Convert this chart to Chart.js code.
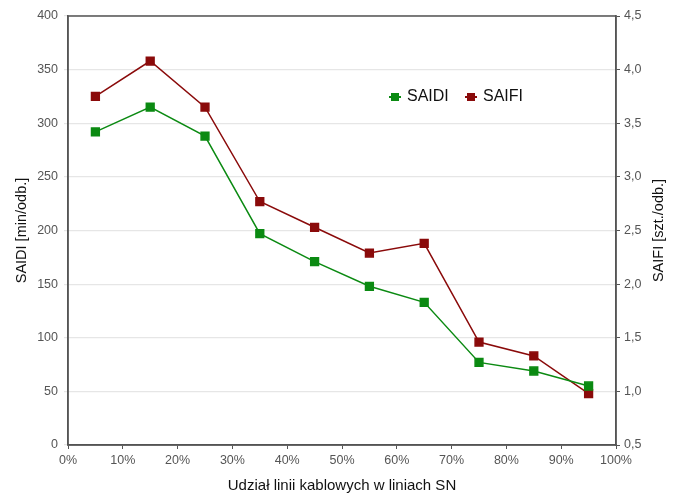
<!DOCTYPE html>
<html>
<head>
<meta charset="utf-8">
<script src="https://cdn.jsdelivr.net/npm/chart.js@4"></script>
<style>
  html, body { margin:0; padding:0; background:#fff; }
  #wrap { width:677px; height:495px; position:relative; }
</style>
</head>
<body>
<div id="wrap"><canvas id="c" width="677" height="495"></canvas></div>
<script>
// udział linii kablowych (środek przedziału)
const share = [0.05, 0.15, 0.25, 0.35, 0.45, 0.55, 0.65, 0.75, 0.85, 0.95];
const saidi = [292, 315, 288, 197, 171, 148, 133, 77, 69, 55];
const saifi = [3.75, 4.08, 3.65, 2.77, 2.53, 2.29, 2.38, 1.46, 1.33, 0.98];
const leftTicks = [0, 50, 100, 150, 200, 250, 300, 350, 400];
const rightTicks = [0.5, 1.0, 1.5, 2.0, 2.5, 3.0, 3.5, 4.0, 4.5];

const GREEN = '#0b8a12', RED = '#8a0a0a';
const FONT = 'Liberation Sans, Arial, sans-serif';

const pts = arr => arr.map((v,i)=>({x:share[i], y:v}));

// ramka wykresu, tytuł prawej osi (czytany od dołu) + legenda w polu wykresu
const boxPlugin = {
  id:'box',
  afterDraw(ch) {
    const a=ch.chartArea, c=ch.ctx;
    c.save();
    c.strokeStyle='#555'; c.lineWidth=1.5;
    c.strokeRect(a.left, a.top, a.right-a.left, a.bottom-a.top);

    c.save();
    c.translate(659, (a.top+a.bottom)/2);
    c.rotate(-Math.PI/2);
    c.font='14.5px '+FONT; c.fillStyle='#111'; c.textAlign='center'; c.textBaseline='middle';
    c.fillText('SAIFI [szt./odb.]', 0, 0);
    c.restore();

    // legenda
    c.font='16px '+FONT; c.textBaseline='middle'; c.textAlign='left';
    const items=[['SAIDI',GREEN,395],['SAIFI',RED,471]];
    const y=97;
    items.forEach(([t,col,x])=>{
      c.strokeStyle=col; c.lineWidth=2;
      c.beginPath(); c.moveTo(x-6,y); c.lineTo(x+6,y); c.stroke();
      c.fillStyle=col; c.fillRect(x-4,y-4,8,8);
      c.fillStyle='#111'; c.fillText(t, x+12, y);
    });
    c.restore();
  }
};

new Chart(document.getElementById('c'), {
  type:'line',
  data:{
    datasets:[
      {label:'SAIDI', data:pts(saidi), yAxisID:'y', borderColor:GREEN, backgroundColor:GREEN,
       borderWidth:1.5, pointStyle:'rect', pointRadius:5.5, pointBorderColor:GREEN, pointBackgroundColor:GREEN, tension:0},
      {label:'SAIFI', data:pts(saifi), yAxisID:'y1', borderColor:RED, backgroundColor:RED,
       borderWidth:1.5, pointStyle:'rect', pointRadius:5.5, pointBorderColor:RED, pointBackgroundColor:RED, tension:0}
    ]
  },
  options:{
    responsive:false, animation:false,
    layout:{padding:{top:16, left:0, right:0, bottom:0}},
    plugins:{legend:{display:false}, tooltip:{enabled:false}},
    scales:{
      x:{
        type:'linear', min:0, max:1,
        afterBuildTicks: s => { s.ticks = share.map((v,i)=>({value:i/10})).concat([{value:1}]); },
        afterFit: s => { s.height = 50; },
        ticks:{color:'#555', font:{family:FONT, size:12.5}, padding:4,
               callback: v => Math.round(v*100)+'%', autoSkip:false, maxRotation:0},
        grid:{drawOnChartArea:false, tickLength:4, color:'#555'},
        border:{color:'#555', width:1.5},
        title:{display:true, text:'Udział linii kablowych w liniach SN', color:'#111',
               font:{family:FONT, size:15}, padding:{top:5, bottom:0}}
      },
      y:{
        position:'left', min:0, max:400,
        afterBuildTicks: s => { s.ticks = leftTicks.map(v=>({value:v})); },
        afterFit: s => { s.width = 68; },
        ticks:{color:'#555', font:{family:FONT, size:12.5}, padding:6},
        grid:{color:'#e6e6e6', lineWidth:1.2, tickLength:4},
        border:{color:'#555', width:1.5},
        title:{display:true, text:'SAIDI [min/odb.]', color:'#111', font:{family:FONT, size:14.5}, padding:{top:13, bottom:0}}
      },
      y1:{
        position:'right', min:0.5, max:4.5,
        afterBuildTicks: s => { s.ticks = rightTicks.map(v=>({value:v})); },
        afterFit: s => { s.width = 61; },
        ticks:{color:'#555', font:{family:FONT, size:12.5}, padding:4,
               callback: v => v.toFixed(1).replace('.', ',')},
        grid:{drawOnChartArea:false, tickLength:4, color:'#555'},
        border:{color:'#555', width:1.5},
        title:{display:false}
      }
    }
  },
  plugins:[boxPlugin]
});
</script>
</body>
</html>
